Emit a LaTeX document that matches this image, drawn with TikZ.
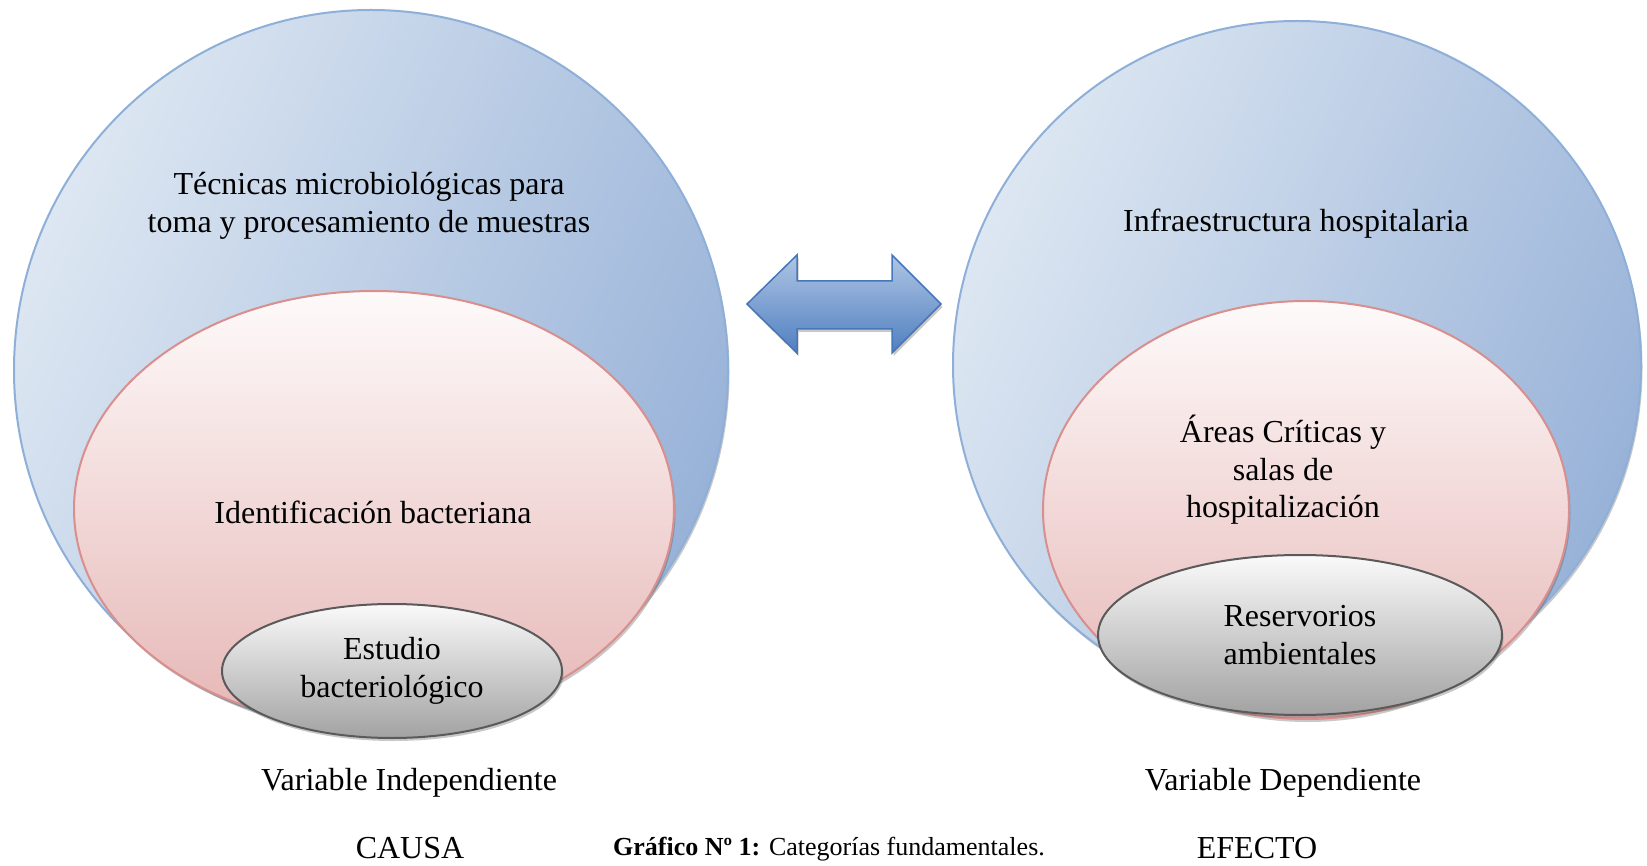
\documentclass[tikz,border=0pt]{standalone}
\usepackage{fontspec}
\setmainfont{Liberation Serif}
\usetikzlibrary{shapes.geometric,shadows}
\definecolor{azulclaro}{HTML}{DDE7F2}
\definecolor{azulosc}{HTML}{98B2D8}
\definecolor{azulborde}{HTML}{8DAFD8}
\definecolor{rosaclaro}{HTML}{FEFAFA}
\definecolor{rosaosc}{HTML}{E5B6B5}
\definecolor{rosaborde}{HTML}{D88F8D}
\definecolor{grisclaro}{HTML}{FAFAFA}
\definecolor{grisosc}{HTML}{A2A2A2}
\definecolor{grisborde}{HTML}{5A5A5A}
\definecolor{flechaclara}{HTML}{AFC5E4}
\definecolor{flechaosc}{HTML}{4F7FC0}
\definecolor{flechaborde}{HTML}{4677B8}

\tikzset{
  sombra/.style={drop shadow={shadow xshift=1.5pt, shadow yshift=-3pt, opacity=0.3, fill=black!70}},
  circazul/.style={ellipse, inner sep=0pt, draw=azulborde, line width=2pt,
    top color=azulclaro, bottom color=azulosc, shading angle=65, sombra},
  circrosa/.style={ellipse, inner sep=0pt, draw=rosaborde, line width=2pt,
    top color=rosaclaro, bottom color=rosaosc, sombra},
  circgris/.style={ellipse, inner sep=0pt, align=center, draw=grisborde, line width=2pt,
    top color=grisclaro, bottom color=grisosc, sombra},
  texto/.style={inner sep=0pt, align=center}
}

\begin{document}
\begin{tikzpicture}[x=1pt, y=-1pt, font=\fontsize{32}{37.5}\selectfont]
\fill[white] (0,0) rectangle (1647,866);
\useasboundingbox (0,0) rectangle (1647,866);
% causa
\node[circazul, minimum width=714pt, minimum height=720pt] (azulI) at (371,370) {};
\node[circrosa, minimum width=600pt, minimum height=436pt] (rosaI) at (374,509) {};
\node[circgris, minimum width=340pt, minimum height=134pt] (grisI) at (392,671) {Estudio\\bacteriológico};
\node[texto] (tecnicas) at (369,206) {Técnicas microbiológicas para\\toma y procesamiento de muestras};
\node[texto] (ident) at (373,512) {Identificación bacteriana};
% efecto
\node[circazul, minimum width=688pt, minimum height=688pt] (azulD) at (1297,365) {};
\node[circrosa, minimum width=526pt, minimum height=418pt] (rosaD) at (1306,510) {};
\node[circgris, minimum width=404pt, minimum height=160pt] (grisD) at (1300,635) {Reservorios\\ambientales};
\node[texto] (infra) at (1296,224) {Infraestructura hospitalaria};
\node[texto] (areas) at (1283,470) {Áreas Críticas y\\salas de\\hospitalización};
% flecha doble
\draw[sombra, draw=flechaborde, line width=1.5pt, top color=flechaclara, bottom color=flechaosc, line join=miter]
  (747,304) -- (797,255) -- (797,281) -- (892,281) -- (892,255) -- (941,304)
  -- (892,353) -- (892,329) -- (797,329) -- (797,353) -- cycle;
% rotulos
\foreach \n/\x/\y/\t in {varI/409/783/Variable Independiente, varD/1283/783/Variable Dependiente,
  causa/410/848/CAUSA, efecto/1257/848/EFECTO}
  {\node[texto] (\n) at (\x,\y) {\t};}
\node[texto, font=\fontsize{26}{30}\selectfont] (titulo) at (829,849) {\textbf{Gráfico Nº 1:} Categorías fundamentales.};
\end{tikzpicture}
\end{document}
